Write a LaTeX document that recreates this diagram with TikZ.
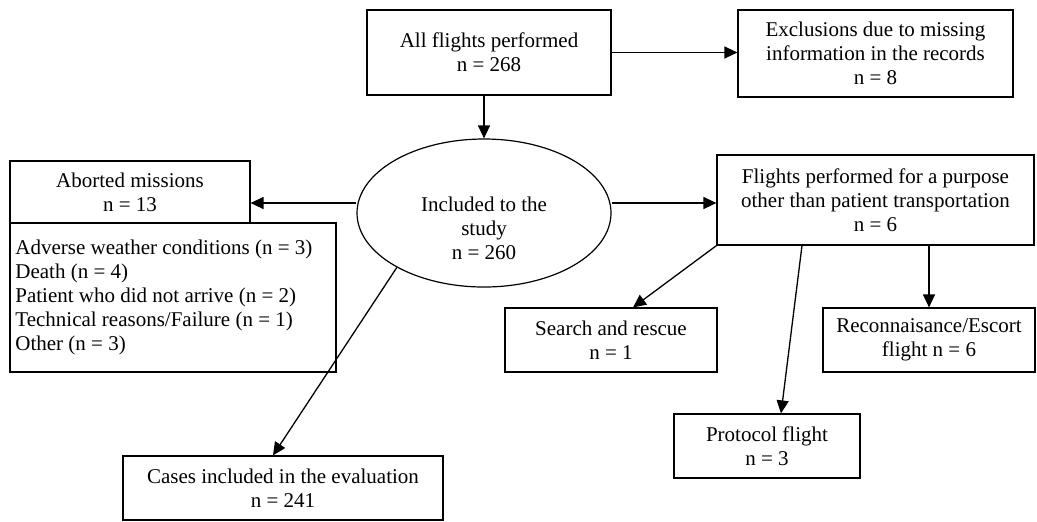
\documentclass[tikz,border=0pt]{standalone}
\usepackage{fontspec}
\setmainfont{Liberation Serif}
\usetikzlibrary{arrows.meta,shapes.geometric}

\begin{document}
\begin{tikzpicture}[x=0.5pt,y=-0.5pt,
		font=\fontsize{10.5}{12}\selectfont,
		box/.style={draw, line width=0.6pt, align=center, inner sep=0pt},
		arr/.style={line width=0.65pt, -{Triangle[length=6.5pt,width=6pt]}}]
		\useasboundingbox (0,0) rectangle (1037,521);
		
		% boxes
		\node[box, minimum width=122pt, minimum height=42.5pt] (all) at (489,52.5) {All flights performed\\n = 268};
		\node[box, minimum width=137.5pt, minimum height=43.5pt] (excl) at (875.5,53.5) {Exclusions due to missing\\information in the records\\n = 8};
		\node[box, ellipse, minimum width=127pt, minimum height=74pt] (incl) at (484,213) {};
		\node[align=center, inner sep=0pt] (incltext) at (484,228) {Included to the\\study\\n = 260};
		\node[box, minimum width=120pt, minimum height=31pt] (abort) at (130,192) {Aborted missions\\n = 13};
		\node[box, minimum width=163pt, minimum height=74.5pt] (list) at (173,297.5) {};
		\node[align=left, inner sep=0pt, anchor=north west] (reasons) at (15,240) {Adverse weather conditions (n = 3)\\Death (n = 4)\\Patient who did not arrive (n = 2)\\Technical reasons/Failure (n = 1)\\Other (n = 3)};
		\node[box, minimum width=158.5pt, minimum height=45pt] (purp) at (875.5,200) {Flights performed for a purpose\\other than patient transportation\\n = 6};
		\node[box, minimum width=106pt, minimum height=32pt] (search) at (611,340) {Search and rescue\\n = 1};
		\node[box, minimum width=106pt, minimum height=32pt] (recon) at (929,340) {Reconnaisance/Escort\\flight n = 6};
		\node[box, minimum width=93pt, minimum height=32pt] (proto) at (767,446) {Protocol flight\\n = 3};
		\node[box, minimum width=160pt, minimum height=32pt] (cases) at (283,488) {Cases included in the evaluation\\n = 241};
		
		% arrows
		\draw[arr] (all.east) -- (excl.west |- all.east);
		\draw[arr] (all.south -| incl.north) -- (incl.north);
		\draw[arr] (incl.west |- 0,203) -- (abort.east |- 0,203);
		\draw[arr] (incl.east |- 0,203) -- (purp.west |- 0,203);
		\draw[arr] (incl.212) -- (cases.north -| 273,0);
		\draw[arr] (purp.south west) -- (search.north -| 633,0);
		\draw[arr] (purp.south -| 802,0) -- (proto.north -| 781,0);
		\draw[arr] (purp.south -| recon.north) -- (recon.north);
	\end{tikzpicture}
\end{document}
